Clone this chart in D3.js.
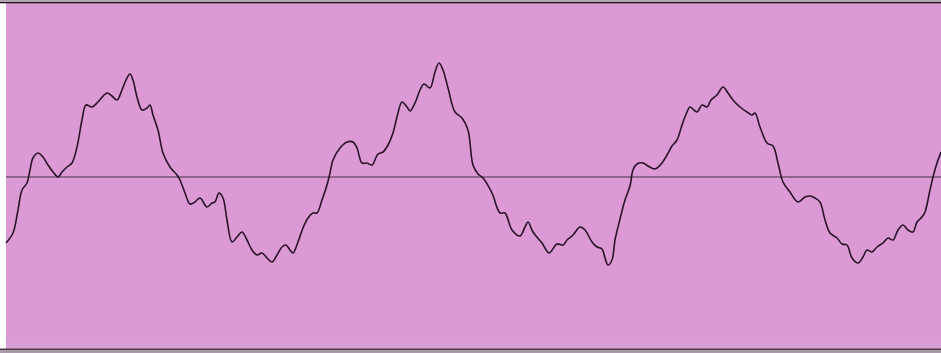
<!DOCTYPE html>
<html>
<head>
<meta charset="utf-8">
<script src="https://cdn.jsdelivr.net/npm/d3@7"></script>
<style>
  html, body { margin: 0; padding: 0; background: #fff; overflow: hidden; }
</style>
</head>
<body>
<script>
// sample positions along the trace (time axis)
var samples = [6,13,18,22,27,30,33,38,43,48,53,58,62,67,72,77,82,86,92,98,107,112,117,122,126,130,133,137,142,147,150,153,158,163,170,177,180,185,190,195,200,207,212,215,219,223,227,232,237,242,247,252,257,262,267,272,277,282,286,290,293,298,303,308,313,317,322,327,330,333,340,347,353,357,362,367,372,378,383,388,393,397,402,407,410,415,420,424,430,435,439,443,448,455,462,468,473,478,483,492,500,505,512,520,525,528,533,542,549,557,563,567,573,580,585,592,597,602,605,608,612,615,620,625,630,633,637,643,648,655,662,667,672,677,682,687,690,697,702,707,711,717,723,728,733,740,747,752,755,760,767,773,778,783,790,798,805,810,815,820,825,830,837,842,847,852,858,863,867,872,877,883,888,893,898,903,908,913,917,922,925,930,933,937,941];

// signal amplitude at each sample
var signal = [-66,-56,-33,-13,-6,7,19,24,20,12,5,0,5,10,14,30,57,72,70,75,84,81,77,87,97,103,97,80,67,69,72,62,47,24,10,2,-3,-16,-27,-25,-21,-30,-26,-25,-16,-21,-43,-65,-60,-55,-63,-73,-78,-76,-81,-85,-78,-70,-68,-73,-76,-65,-51,-41,-36,-36,-23,-8,4,17,29,35,35,29,14,14,12,23,25,32,44,60,75,70,66,74,87,93,89,105,114,107,89,65,59,47,12,3,-1,-16,-36,-36,-53,-59,-50,-45,-55,-66,-76,-67,-68,-63,-58,-50,-53,-65,-70,-72,-81,-88,-83,-63,-42,-23,-9,7,13,14,11,8,14,22,31,37,52,65,70,65,72,70,77,82,90,84,77,70,65,62,64,50,34,31,14,-5,-15,-25,-20,-19,-21,-25,-43,-56,-61,-67,-68,-81,-86,-80,-73,-75,-70,-66,-61,-63,-53,-48,-53,-55,-45,-40,-35,-13,0,14,25];

var data = samples.map(function(t, i) { return { t: t, v: signal[i] }; });

var width = 941, height = 353;

var svg = d3.select("body").append("svg")
  .attr("width", width)
  .attr("height", height);

var x = d3.scaleLinear().domain([6, 941]).range([6, 941]);
var y = d3.scaleLinear().domain([-177, 177]).range([354, 0]);

// frame: grey strip on top, plot area, bottom rule
svg.append("rect").attr("x", 0).attr("y", 0).attr("width", width).attr("height", 2).attr("fill", "#b3a4b2");
svg.append("rect").attr("x", 6).attr("y", 3).attr("width", width - 6).attr("height", 346).attr("fill", "#db9ad6");
svg.append("rect").attr("x", 6).attr("y", 343).attr("width", width - 6).attr("height", 5).attr("fill", "#d6a0d6");
svg.append("rect").attr("x", 0).attr("y", 2).attr("width", width).attr("height", 1.3).attr("fill", "#1c1418");
svg.append("rect").attr("x", 0).attr("y", 348.5).attr("width", width).attr("height", 2).attr("fill", "#4a3c48");
svg.append("rect").attr("x", 0).attr("y", 350.5).attr("width", width).attr("height", 3).attr("fill", "#a899a6");

// zero line
svg.append("line")
  .attr("x1", 6).attr("x2", width)
  .attr("y1", y(0)).attr("y2", y(0))
  .attr("stroke", "#4a3048")
  .attr("stroke-width", 1.2);

var lineFn = d3.line()
  .x(function(d) { return x(d.t); })
  .y(function(d) { return y(d.v); })
  .curve(d3.curveCatmullRom.alpha(0.5));

svg.append("path")
  .datum(data)
  .attr("d", lineFn)
  .attr("fill", "none")
  .attr("stroke", "#2a1228")
  .attr("stroke-width", 1.6);
</script>
</body>
</html>
